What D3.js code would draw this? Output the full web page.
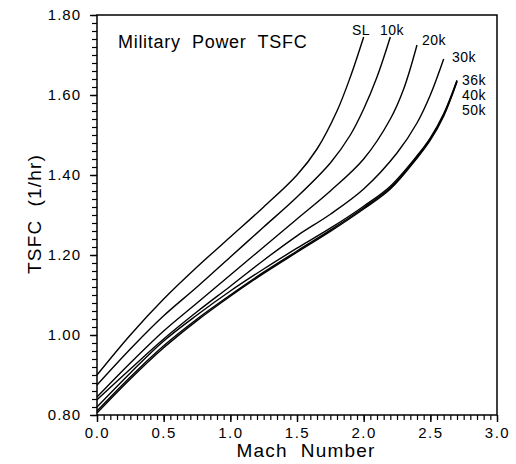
<!DOCTYPE html>
<html>
<head>
<meta charset="utf-8">
<script src="https://cdn.jsdelivr.net/npm/d3@7/dist/d3.min.js"></script>
<style>
  html, body { margin: 0; padding: 0; background: #fff; }
  svg { display: block; }
  text { font-family: "Liberation Sans", Arial, Helvetica, sans-serif; fill: #000; }
</style>
</head>
<body>
<svg id="chart" width="516" height="464"></svg>
<script>
// ---- data ----
const seriesNames = ["SL", "10k", "20k", "30k", "36k", "40k", "50k"];

const machSL  = [0, 0.25, 0.5, 0.75, 1.0, 1.25, 1.5, 1.65, 1.8, 1.9, 2.0];
const tsfcSL  = [0.90, 1.0, 1.09, 1.17, 1.245, 1.32, 1.40, 1.465, 1.56, 1.645, 1.745];

const mach10k = [0, 0.25, 0.5, 0.75, 1.0, 1.25, 1.5, 1.75, 1.9, 2.0, 2.1, 2.2];
const tsfc10k = [0.875, 0.965, 1.048, 1.12, 1.195, 1.27, 1.345, 1.43, 1.50, 1.565, 1.645, 1.745];

const mach20k = [0, 0.25, 0.5, 0.75, 1.0, 1.25, 1.5, 1.75, 2.0, 2.2, 2.3, 2.4];
const tsfc20k = [0.845, 0.93, 1.01, 1.08, 1.15, 1.22, 1.29, 1.36, 1.44, 1.54, 1.615, 1.725];

const mach30k = [0, 0.25, 0.5, 0.75, 1.0, 1.25, 1.5, 1.75, 2.0, 2.25, 2.4, 2.5, 2.6];
const tsfc30k = [0.838, 0.915, 0.99, 1.058, 1.122, 1.187, 1.248, 1.302, 1.365, 1.455, 1.53, 1.60, 1.69];

const machHigh = [0, 0.25, 0.5, 0.75, 1.0, 1.25, 1.5, 1.75, 2.0, 2.2, 2.4, 2.5, 2.6, 2.7];
const tsfc36k = [0.82, 0.905, 0.985, 1.05, 1.11, 1.165, 1.217, 1.267, 1.322, 1.372, 1.448, 1.493, 1.553, 1.637];
const tsfc40k = [0.81, 0.895, 0.973, 1.04, 1.10, 1.157, 1.21, 1.262, 1.318, 1.368, 1.445, 1.49, 1.55, 1.635];
const tsfc50k = [0.805, 0.89, 0.968, 1.036, 1.097, 1.154, 1.207, 1.259, 1.315, 1.365, 1.442, 1.487, 1.547, 1.633];

const xTickValues = [0, 0.5, 1.0, 1.5, 2.0, 2.5, 3.0];
const xTickLabels = ["0.0", "0.5", "1.0", "1.5", "2.0", "2.5", "3.0"];
const yTickValues = [0.8, 1.0, 1.2, 1.4, 1.6, 1.8];
const yTickLabels = ["0.80", "1.00", "1.20", "1.40", "1.60", "1.80"];

const titleText = "Military  Power  TSFC";
const xAxisTitle = "Mach  Number";
const yAxisTitle = "TSFC  (1/hr)";

// label anchor points (data units: Mach, TSFC)
const labelMach = [1.9125, 2.1225, 2.4375, 2.6625, 2.7375, 2.7375, 2.7375];
const labelTsfc = [1.75, 1.75, 1.725, 1.6825, 1.625, 1.5875, 1.55];

// ---- build ----
const series = [
  { name: "SL",  mach: machSL,  tsfc: tsfcSL },
  { name: "10k", mach: mach10k, tsfc: tsfc10k },
  { name: "20k", mach: mach20k, tsfc: tsfc20k },
  { name: "30k", mach: mach30k, tsfc: tsfc30k },
  { name: "36k", mach: machHigh, tsfc: tsfc36k },
  { name: "40k", mach: machHigh, tsfc: tsfc40k },
  { name: "50k", mach: machHigh, tsfc: tsfc50k }
];

const margin = { left: 97, top: 15, right: 19, bottom: 49 };
const W = 516, H = 464;
const svg = d3.select("#chart");

const x = d3.scaleLinear().domain([0, 3]).range([margin.left, W - margin.right]);
const y = d3.scaleLinear().domain([0.8, 1.8]).range([H - margin.bottom, margin.top]);

// minor ticks
const xMinor = d3.range(0, 3.0001, 0.05);
const yMinor = d3.range(0.8, 1.8001, 0.02);

const gx = svg.append("g").attr("transform", `translate(0,${y(0.8)})`)
  .call(d3.axisBottom(x).tickValues(xMinor).tickSize(5).tickFormat(""));
gx.select(".domain").remove();
gx.selectAll("line").attr("stroke", "#000").attr("stroke-width", 1.2);

const gx2 = svg.append("g").attr("transform", `translate(0,${y(0.8)})`)
  .call(d3.axisBottom(x).tickValues(xTickValues).tickSize(7)
    .tickFormat((d, i) => xTickLabels[i]));
gx2.select(".domain").remove();
gx2.selectAll("line").attr("stroke", "#000").attr("stroke-width", 1.4);
gx2.selectAll("text").attr("font-size", 15).attr("dy", "0.71em").attr("y", 12)
  .style("letter-spacing", "1.5px");

const gy = svg.append("g").attr("transform", `translate(${x(0)},0)`)
  .call(d3.axisLeft(y).tickValues(yMinor).tickSize(5).tickFormat(""));
gy.select(".domain").remove();
gy.selectAll("line").attr("stroke", "#000").attr("stroke-width", 1.2);

const gy2 = svg.append("g").attr("transform", `translate(${x(0)},0)`)
  .call(d3.axisLeft(y).tickValues(yTickValues).tickSize(7)
    .tickFormat((d, i) => yTickLabels[i]));
gy2.select(".domain").remove();
gy2.selectAll("line").attr("stroke", "#000").attr("stroke-width", 1.4);
gy2.selectAll("text").attr("font-size", 15).attr("x", -16)
  .style("letter-spacing", "1px");

// frame
svg.append("rect")
  .attr("x", x(0)).attr("y", y(1.8))
  .attr("width", x(3) - x(0)).attr("height", y(0.8) - y(1.8))
  .attr("fill", "none").attr("stroke", "#000").attr("stroke-width", 1.5);

// curves
const line = d3.line()
  .x(d => x(d[0])).y(d => y(d[1]))
  .curve(d3.curveCatmullRom.alpha(0.5));

svg.append("g").selectAll("path")
  .data(series)
  .join("path")
  .attr("d", s => line(s.mach.map((m, i) => [m, s.tsfc[i]])))
  .attr("fill", "none")
  .attr("stroke", "#000")
  .attr("stroke-width", 1.4);

// curve labels
svg.append("g").selectAll("text")
  .data(seriesNames)
  .join("text")
  .attr("x", (d, i) => x(labelMach[i]))
  .attr("y", (d, i) => y(labelTsfc[i]))
  .attr("font-size", 14)
  .style("letter-spacing", "0.5px")
  .text(d => d);

// titles
svg.append("text")
  .attr("x", 118).attr("y", 48)
  .attr("font-size", 18)
  .style("white-space", "pre")
  .style("letter-spacing", "0.7px")
  .text(titleText);

svg.append("text")
  .attr("x", 306).attr("y", 457)
  .attr("text-anchor", "middle")
  .attr("font-size", 19)
  .style("white-space", "pre")
  .style("letter-spacing", "1.2px")
  .text(xAxisTitle);

svg.append("text")
  .attr("transform", `translate(41,214) rotate(-90)`)
  .attr("text-anchor", "middle")
  .attr("font-size", 19)
  .style("white-space", "pre")
  .style("letter-spacing", "1.2px")
  .text(yAxisTitle);
</script>
</body>
</html>
